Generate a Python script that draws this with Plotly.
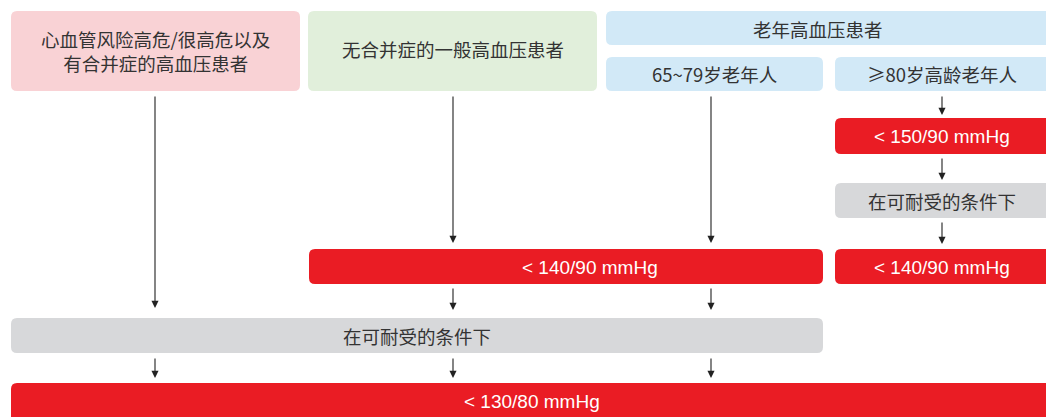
import plotly.graph_objects as go

W, H = 1046, 417

# Box labels
box_labels = [
    "心血管风险高危/很高危以及<br>有合并症的高血压患者",
    "无合并症的一般高血压患者",
    "老年高血压患者",
    "65~79岁老年人",
    "≥80岁高龄老年人",
    "< 150/90 mmHg",
    "在可耐受的条件下",
    "< 140/90 mmHg",
    "< 140/90 mmHg",
    "在可耐受的条件下",
    "< 130/80 mmHg",
]
box_kinds = ["pink", "green", "blue", "blue", "blue", "red", "gray", "red", "red", "gray", "red"]
# box geometry in pixels: x0, y0, x1, y1
box_x0 = [11, 308, 606, 606, 835, 835, 835, 309, 835, 11, 11]
box_y0 = [11, 11, 11, 57, 57, 118, 183, 249, 249, 318, 383]
box_x1 = [300, 597, 1060, 823, 1060, 1060, 1060, 823, 1060, 823, 1060]
box_y1 = [91, 91, 45, 91, 91, 154, 218, 284, 284, 353, 430]
text_x = [155, 453, 818, 714, 942, 942, 942, 590, 942, 417, 532]
text_y = [51, 49, 29, 74, 74, 136, 201, 267, 267, 336, 401]

# arrows: x, y_start, y_end
arrow_x = [155, 453, 711, 942, 942, 942, 453, 711, 155, 453, 711]
arrow_y0 = [95, 95, 95, 95, 157, 221, 287, 287, 357, 357, 357]
arrow_y1 = [308, 243, 243, 115, 180, 244, 310, 310, 378, 378, 378]

fills = {"pink": "#f9d2d5", "green": "#e1efdb", "blue": "#d2e9f7",
         "red": "#ea1c24", "gray": "#d7d8da"}
txtc = {"pink": "#333333", "green": "#333333", "blue": "#333333",
        "red": "#ffffff", "gray": "#333333"}


def rrect(x0, y0, x1, y1, r=6):
    return (f"M {x0+r},{y0} L {x1-r},{y0} Q {x1},{y0} {x1},{y0+r} "
            f"L {x1},{y1-r} Q {x1},{y1} {x1-r},{y1} L {x0+r},{y1} "
            f"Q {x0},{y1} {x0},{y1-r} L {x0},{y0+r} Q {x0},{y0} {x0+r},{y0} Z")


fig = go.Figure()
fig.add_trace(go.Scatter(x=[0, W], y=[0, H], mode="markers",
                         marker=dict(opacity=0), hoverinfo="skip", showlegend=False))

shapes = []
annotations = []
for i, lab in enumerate(box_labels):
    k = box_kinds[i]
    shapes.append(dict(type="path", xref="x", yref="y",
                       path=rrect(box_x0[i], box_y0[i], box_x1[i], box_y1[i]),
                       fillcolor=fills[k], line=dict(width=0), layer="below"))
    is_latin = lab.startswith("<")
    annotations.append(dict(
        x=text_x[i], y=text_y[i], xref="x", yref="y", text=lab, showarrow=False,
        font=dict(size=19 if is_latin else 18.5, color=txtc[k],
                  family=("Liberation Sans, Arial" if is_latin else "Noto Sans CJK SC")),
        align="center", xanchor="center", yanchor="middle"))

for i in range(len(arrow_x)):
    annotations.append(dict(
        x=arrow_x[i], y=arrow_y1[i], ax=arrow_x[i], ay=arrow_y0[i],
        xref="x", yref="y", axref="x", ayref="y", text="",
        showarrow=True, arrowhead=2, arrowsize=1.3, arrowwidth=1.1,
        arrowcolor="#222222"))

fig.update_layout(
    width=W, height=H, margin=dict(l=0, r=0, t=0, b=0),
    paper_bgcolor="white", plot_bgcolor="white",
    xaxis=dict(range=[0, W], visible=False, fixedrange=True),
    yaxis=dict(range=[H, 0], visible=False, fixedrange=True),
    shapes=shapes, annotations=annotations, showlegend=False,
)

fig.write_html("out.html", config={"displayModeBar": False},
               post_script="document.body.style.margin='0px';document.body.style.overflow='hidden';")
